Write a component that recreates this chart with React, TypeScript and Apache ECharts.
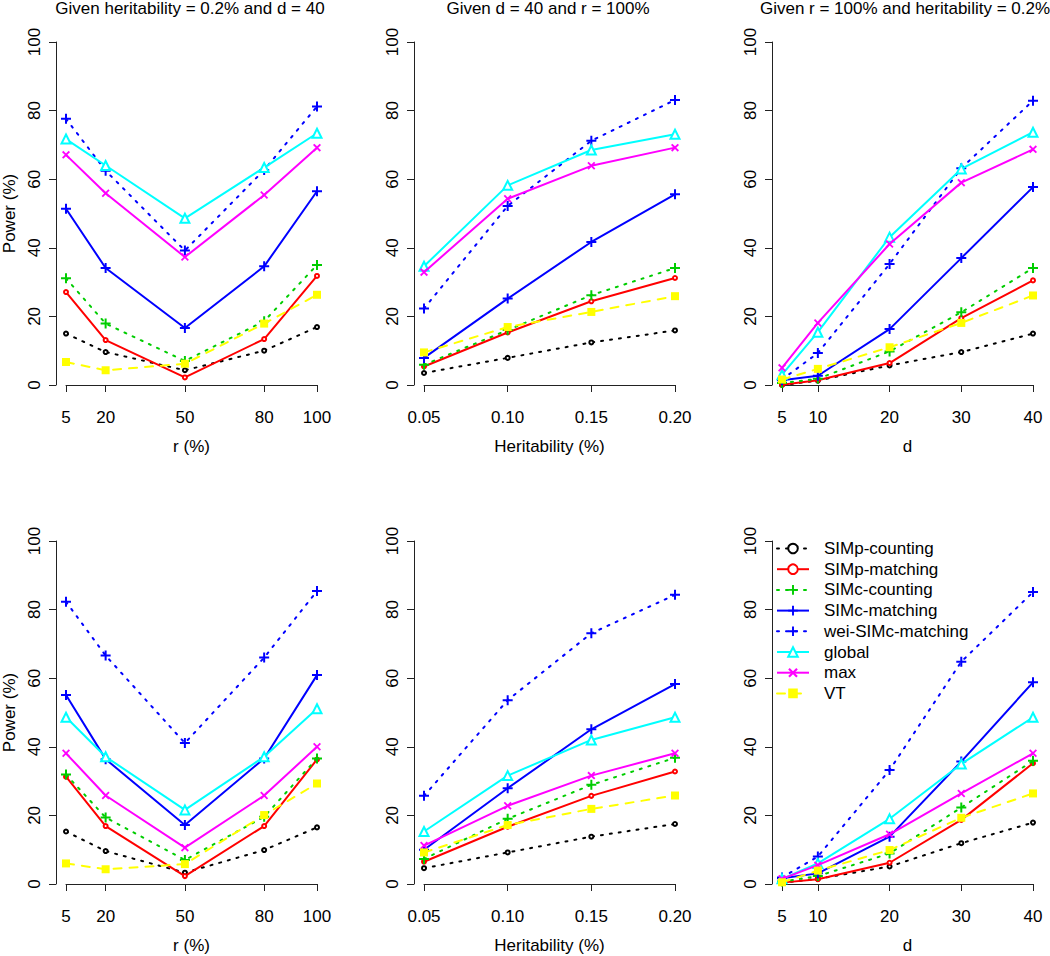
import React, { useEffect, useRef } from "react";
import * as echarts from "echarts";

// ---- categories / tick values ----
const methods = [
  "SIMp-counting",
  "SIMp-matching",
  "SIMc-counting",
  "SIMc-matching",
  "wei-SIMc-matching",
  "global",
  "max",
  "VT",
];
const rTicks = [5, 20, 50, 80, 100];
const hTicks = [0.05, 0.1, 0.15, 0.2];
const dTicks = [5, 10, 20, 30, 40];
const yTicks = [0, 20, 40, 60, 80, 100];

const panelTitles = [
  "Given heritability = 0.2% and d = 40",
  "Given d = 40 and r = 100%",
  "Given r = 100% and heritability = 0.2%",
];
const xNames = ["r (%)", "Heritability (%)", "d"];

// ---- series values (rows follow `methods`) ----
const topR = [
  [15.0, 9.6, 4.3, 10.0, 16.9],
  [27.1, 13.1, 2.2, 13.4, 31.8],
  [31.1, 17.9, 7.0, 18.6, 35.0],
  [51.4, 34.1, 16.6, 34.6, 56.5],
  [77.6, 62.5, 39.2, 62.7, 81.2],
  [71.7, 64.0, 48.6, 63.4, 73.4],
  [67.1, 55.9, 37.3, 55.4, 69.2],
  [6.7, 4.3, 6.2, 17.9, 26.3],
];
const topH = [
  [3.5, 7.9, 12.4, 15.9],
  [5.4, 15.3, 24.4, 31.2],
  [5.9, 16.0, 26.2, 34.1],
  [7.9, 25.2, 41.7, 55.6],
  [22.3, 52.2, 71.2, 83.1],
  [34.6, 58.2, 68.5, 73.1],
  [32.9, 54.3, 63.9, 69.2],
  [9.5, 16.9, 21.3, 25.9],
];
const topD = [
  [0.0, 1.3, 5.7, 9.6, 15.0],
  [0.1, 1.4, 6.4, 19.5, 30.5],
  [0.6, 1.8, 9.8, 21.2, 34.1],
  [1.4, 2.7, 16.3, 37.0, 57.7],
  [1.6, 9.3, 35.3, 63.2, 82.9],
  [3.0, 15.4, 43.1, 63.0, 73.7],
  [5.0, 18.1, 41.1, 59.0, 68.7],
  [1.6, 4.7, 11.0, 18.1, 26.1],
];
const botR = [
  [15.3, 9.6, 3.3, 9.9, 16.5],
  [31.3, 16.9, 2.3, 16.9, 36.3],
  [31.9, 19.4, 7.0, 19.6, 36.6],
  [55.1, 36.4, 17.2, 36.6, 60.9],
  [82.3, 66.6, 41.1, 66.0, 85.4],
  [48.6, 37.1, 21.6, 37.1, 51.1],
  [38.1, 25.8, 10.6, 25.8, 40.0],
  [6.0, 4.3, 5.8, 20.1, 29.3],
];
const botH = [
  [4.6, 9.2, 13.8, 17.5],
  [6.5, 16.7, 25.7, 32.8],
  [7.3, 19.0, 28.9, 36.8],
  [10.0, 27.9, 45.1, 58.3],
  [25.7, 53.6, 73.1, 84.3],
  [15.3, 31.6, 42.0, 48.6],
  [11.2, 22.8, 31.6, 38.1],
  [9.2, 17.2, 21.9, 25.8],
];
const botD = [
  [0.4, 1.5, 5.1, 11.9, 17.9],
  [0.4, 1.4, 6.2, 18.7, 35.2],
  [0.7, 2.3, 8.9, 22.3, 35.9],
  [1.7, 3.1, 13.8, 35.7, 58.8],
  [1.9, 8.0, 33.2, 64.8, 85.1],
  [1.5, 6.0, 19.0, 35.0, 48.6],
  [1.5, 5.5, 14.5, 26.4, 38.1],
  [0.5, 3.9, 9.9, 19.3, 26.4],
];

// ---- styles ----
const FONT = "'Liberation Sans', Arial, sans-serif";
const FS = 17;
const PLUS = "path://M4,0H6V4H10V6H6V10H4V6H0V4H4Z";
const CROSS =
  "path://M0,1.6L1.6,0L5,3.4L8.4,0L10,1.6L6.6,5L10,8.4L8.4,10L5,6.6L1.6,10L0,8.4L3.4,5Z";

const styles = [
  { color: "#000000", dash: [2, 7] as any, symbol: "emptyCircle", size: 4 },
  { color: "#FF0000", dash: "solid" as any, symbol: "emptyCircle", size: 4 },
  { color: "#00CD00", dash: [2, 7] as any, symbol: PLUS, size: 10 },
  { color: "#0000FF", dash: "solid" as any, symbol: PLUS, size: 10 },
  { color: "#0000FF", dash: [2, 7] as any, symbol: PLUS, size: 10 },
  { color: "#00FFFF", dash: "solid" as any, symbol: "emptyTriangle", size: 9 },
  { color: "#FF00FF", dash: "solid" as any, symbol: CROSS, size: 8 },
  { color: "#FFFF00", dash: [8, 8] as any, symbol: "rect", size: 8 },
];

export default function App() {
  const ref = useRef<HTMLDivElement>(null);
  useEffect(() => {
    document.body.style.margin = "0";
    const chart = echarts.init(ref.current!, null, { renderer: "svg" });

    const colLeft = [65, 424, 782];
    const colWidth = [252, 251, 251];
    const rowTop = [42, 541];
    const plotH = 343;
    const panels = [
      { x: rTicks, vals: topR, row: 0, col: 0 },
      { x: hTicks, vals: topH, row: 0, col: 1 },
      { x: dTicks, vals: topD, row: 0, col: 2 },
      { x: rTicks, vals: botR, row: 1, col: 0 },
      { x: hTicks, vals: botH, row: 1, col: 1 },
      { x: dTicks, vals: botD, row: 1, col: 2 },
    ];

    const axisLine = { show: true, lineStyle: { color: "#222", width: 1 } };
    const grid: any[] = [];
    const xAxis: any[] = [];
    const yAxis: any[] = [];
    const series: any[] = [];

    panels.forEach((p, i) => {
      grid.push({
        left: colLeft[p.col],
        top: rowTop[p.row],
        width: colWidth[p.col],
        height: plotH,
        containLabel: false,
      });
      const isH = p.col === 1;
      xAxis.push({
        gridIndex: i,
        type: "value",
        min: p.x[0],
        max: p.x[p.x.length - 1],
        offset: 14,
        axisLine,
        axisTick: {
          show: true,
          length: 7,
          customValues: p.x,
          lineStyle: { color: "#222", width: 1 },
        },
        axisLabel: {
          customValues: p.x,
          formatter: (v: number) => (isH ? v.toFixed(2) : String(v)),
          fontSize: FS,
          color: "#000",
          fontFamily: FONT,
          margin: 10,
          showMinLabel: true,
          showMaxLabel: true,
        },
        splitLine: { show: false },
        name: xNames[p.col],
        nameLocation: "middle",
        nameGap: 39,
        nameTextStyle: { fontSize: FS, color: "#000", fontFamily: FONT },
      });
      yAxis.push({
        gridIndex: i,
        type: "value",
        min: 0,
        max: 100,
        interval: 20,
        offset: 10,
        axisLine,
        axisTick: { show: true, length: 7, lineStyle: { color: "#222", width: 1 } },
        axisLabel: {
          rotate: 90,
          fontSize: FS,
          color: "#000",
          fontFamily: FONT,
          margin: 13,
          customValues: yTicks,
        },
        splitLine: { show: false },
        name: p.col === 0 ? "Power (%)" : "",
        nameLocation: "middle",
        nameGap: 38,
        nameTextStyle: { fontSize: FS, color: "#000", fontFamily: FONT },
      });
      methods.forEach((m, k) => {
        const s = styles[k];
        const filled = !String(s.symbol).startsWith("empty");
        series.push({
          type: "line",
          name: m,
          xAxisIndex: i,
          yAxisIndex: i,
          clip: false,
          data: p.x.map((xv, j) => [xv, p.vals[k][j]]),
          symbol: s.symbol,
          symbolSize: s.size,
          showAllSymbol: true,
          lineStyle: {
            color: s.color,
            width: 2,
            type: s.dash,
            cap: s.dash === "solid" ? "butt" : "round",
          },
          itemStyle: filled
            ? { color: s.color, borderWidth: 0 }
            : { color: s.color, borderColor: s.color, borderWidth: 1.3 },
          emphasis: { disabled: true },
          z: 2 + k * 0.01,
        });
      });
    });

    const titleCenters = [190, 548, 905];
    const title = panelTitles.map((t, c) => ({
      text: t,
      left: titleCenters[c],
      top: 0,
      padding: 0,
      textAlign: "center",
      textStyle: { fontSize: FS, fontWeight: "normal", color: "#000", fontFamily: FONT },
    }));

    chart.setOption({
      animation: false,
      backgroundColor: "#fff",
      title,
      grid,
      xAxis,
      yAxis,
      series,
      legend: {
        show: true,
        data: methods,
        orient: "vertical",
        left: 776,
        top: 540,
        padding: 0,
        itemWidth: 32,
        itemHeight: 12,
        itemGap: 3.7,
        selectedMode: false,
        textStyle: {
          fontSize: FS,
          color: "#000",
          fontFamily: FONT,
          padding: [0, 0, 0, 10],
        },
      },
    });
    return () => chart.dispose();
  }, []);
  return <div ref={ref} style={{ width: 1050, height: 956 }} />;
}
